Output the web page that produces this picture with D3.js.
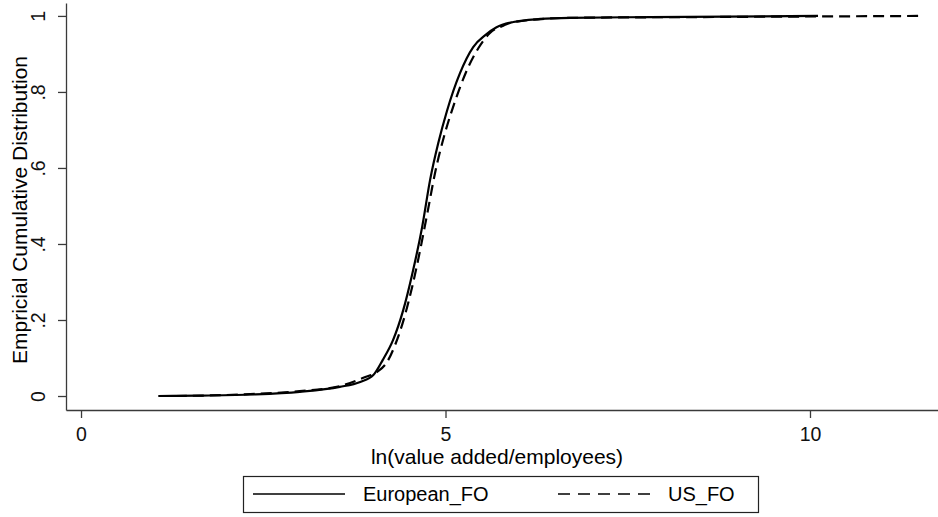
<!DOCTYPE html>
<html>
<head>
<meta charset="utf-8">
<script src="https://cdn.jsdelivr.net/npm/d3@7"></script>
<style>
  body { margin: 0; background: #fff; }
  svg { display: block; font-family: "Liberation Sans", Arial, sans-serif; }
  .axis path, .axis line { stroke: #3a3a3a; stroke-width: 1.3px; }
  .axis text { fill: #111; font-size: 19.5px; }
  .curve { fill: none; stroke: #000; stroke-width: 2.2px; }
  .dashed { stroke-dasharray: 11, 6; }
</style>
</head>
<body>
<div id="chart"></div>
<script>
var euroX = [1.06, 1.63, 2.32, 3.00, 3.55, 3.83, 4.01, 4.14, 4.28, 4.42, 4.54, 4.68, 4.79, 4.90, 5.02, 5.20, 5.38, 5.55, 5.70, 5.93, 6.30, 6.71, 7.81, 10.11];
var euroY = [0.000, 0.001, 0.004, 0.011, 0.024, 0.037, 0.055, 0.095, 0.147, 0.226, 0.318, 0.445, 0.570, 0.665, 0.750, 0.850, 0.918, 0.950, 0.970, 0.984, 0.992, 0.995, 0.997, 1.000];

var usX = [1.30, 2.32, 3.00, 3.55, 3.90, 4.06, 4.20, 4.31, 4.44, 4.54, 4.61, 4.75, 4.86, 4.99, 5.13, 5.30, 5.45, 5.61, 5.80, 5.93, 6.71, 8.49, 11.54];
var usY = [0.000, 0.005, 0.013, 0.026, 0.050, 0.063, 0.090, 0.135, 0.210, 0.285, 0.345, 0.480, 0.590, 0.690, 0.775, 0.860, 0.915, 0.955, 0.975, 0.984, 0.995, 0.997, 1.000];

var xTicks = [0, 5, 10];
var yTicks = [0, 0.2, 0.4, 0.6, 0.8, 1];
var yTickLabels = ['0', '.2', '.4', '.6', '.8', '1'];
var seriesNames = ['European_FO', 'US_FO'];

(function (d3) {
    'use strict';

    var width = 938;
    var height = 517;

    // Plot frame in pixels: the axes meet at the lower left corner.
    var left = 66, right = 938, top = 3, bottom = 410;

    // Domains are padded so that 0..10 and 0..1 land where the picture has them.
    var x = d3.scaleLinear().domain([-0.206, 11.756]).range([left, right]);
    var y = d3.scaleLinear().domain([-0.0368, 1.034]).range([bottom, top]);

    var svg = d3.select('#chart').append('svg')
        .attr('width', width)
        .attr('height', height);

    // x-axis
    svg.append('g')
        .attr('class', 'axis x-axis')
        .attr('transform', 'translate(0,' + bottom + ')')
        .call(d3.axisBottom(x).tickValues(xTicks).tickSize(8).tickSizeOuter(0)
            .tickFormat(d3.format('d')))
        .selectAll('text')
        .attr('y', 31)
        .attr('dy', null);

    // y-axis, labels turned on their side
    var yAxis = svg.append('g')
        .attr('class', 'axis y-axis')
        .attr('transform', 'translate(' + left + ',0)')
        .call(d3.axisLeft(y).tickValues(yTicks).tickSize(8).tickSizeOuter(0)
            .tickFormat(function (d, i) { return yTickLabels[i]; }));

    yAxis.selectAll('.tick text')
        .attr('x', null)
        .attr('dy', null)
        .attr('text-anchor', 'middle')
        .attr('transform', 'translate(-21,0) rotate(-90)');

    // axis titles
    svg.append('text')
        .attr('x', (left + right) / 2 - 5)
        .attr('y', 464)
        .attr('text-anchor', 'middle')
        .style('font-size', '21px')
        .text('ln(value added/employees)');

    svg.append('text')
        .attr('transform', 'translate(27,210) rotate(-90)')
        .attr('text-anchor', 'middle')
        .style('font-size', '21px')
        .text('Empricial Cumulative Distribution');

    // the two distribution curves
    var line = d3.line()
        .x(function (d) { return x(d[0]); })
        .y(function (d) { return y(d[1]); })
        .curve(d3.curveMonotoneX);

    svg.append('path')
        .datum(d3.zip(usX, usY))
        .attr('class', 'curve dashed')
        .attr('d', line);

    svg.append('path')
        .datum(d3.zip(euroX, euroY))
        .attr('class', 'curve')
        .attr('d', line);

    // legend
    var legend = svg.append('g').attr('class', 'legend');

    legend.append('rect')
        .attr('x', 243.5).attr('y', 476.5)
        .attr('width', 515).attr('height', 36)
        .attr('fill', 'none')
        .attr('stroke', '#222')
        .attr('stroke-width', 1.2);

    var keyX = [253, 558];
    seriesNames.forEach(function (name, i) {
        legend.append('line')
            .attr('x1', keyX[i]).attr('x2', keyX[i] + 92)
            .attr('y1', 494).attr('y2', 494)
            .attr('fill', 'none')
            .attr('stroke', '#000')
            .attr('stroke-width', 1.6)
            .attr('stroke-dasharray', i === 0 ? null : '12,8');

        legend.append('text')
            .attr('x', keyX[i] + 110)
            .attr('y', 501)
            .style('font-size', '20px')
            .text(name);
    });
})(d3);
</script>
</body>
</html>
